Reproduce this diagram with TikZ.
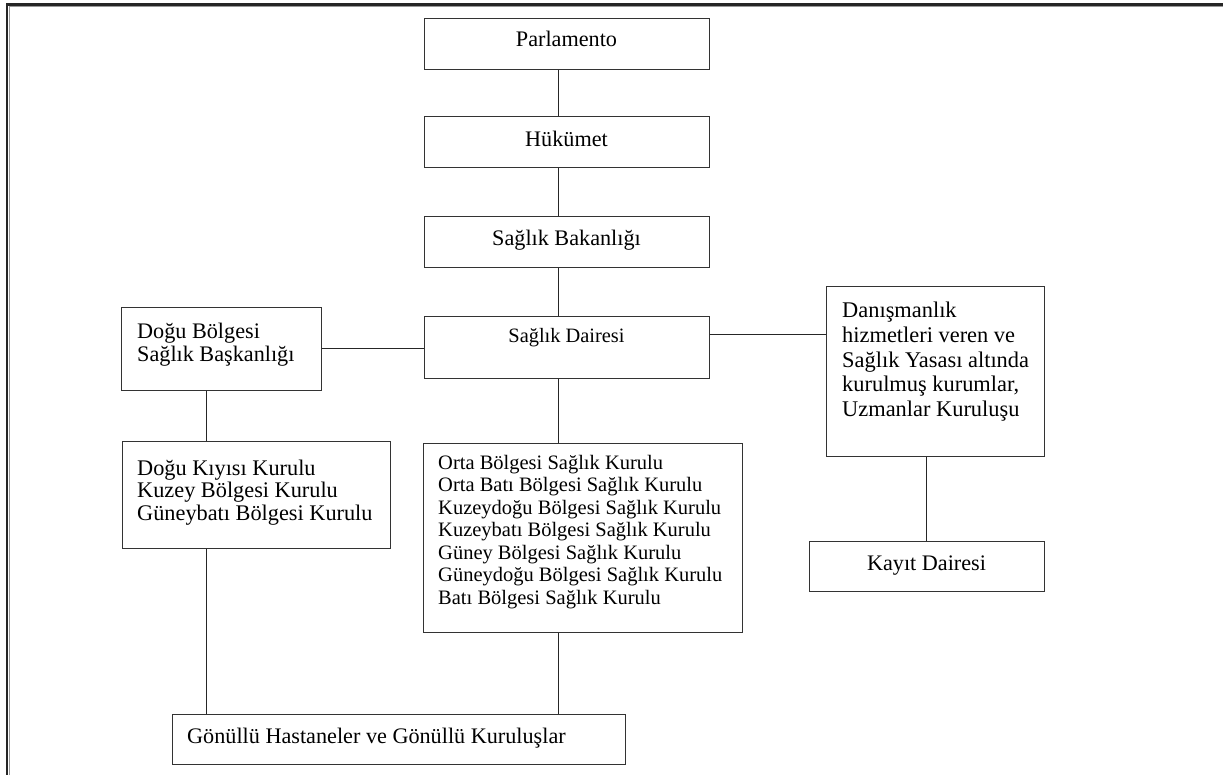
\documentclass[tikz,border=0pt]{standalone}
\usepackage{fontspec}
\setmainfont{Liberation Serif}
\begin{document}
\begin{tikzpicture}[x=1pt,y=-1pt,
  box/.style={draw=black!80, line width=1pt, inner sep=0pt},
  txt/.style={inner sep=0pt, font=\fontsize{22.2}{22.5}\selectfont},
  txts/.style={inner sep=0pt, font=\fontsize{20.4}{22.5}\selectfont},
  link/.style={draw=black!85, line width=1pt}]
\useasboundingbox (0,0) rectangle (1223,775);
\fill[white] (0,0) rectangle (1223,775);
% outer frame
\draw[line width=2.2pt, black!85] (7,775) -- (7,4.5) -- (1223,4.5);
\draw[line width=0.8pt, black!40] (9,775) -- (9,6.5) -- (1223,6.5);
% boxes
\node[box, minimum width=285, minimum height=51] (parl) at (566.5,44.5) {};
\node[box, minimum width=285, minimum height=51] (huk) at (566.5,142.5) {};
\node[box, minimum width=285, minimum height=51] (bak) at (566.5,242.5) {};
\node[box, minimum width=285, minimum height=61] (dai) at (566.5,347.5) {};
\node[box, minimum width=200, minimum height=82] (dogu) at (221,349) {};
\node[box, minimum width=268, minimum height=107] (kiyi) at (256,494.5) {};
\node[box, minimum width=319, minimum height=189] (orta) at (582.5,537.5) {};
\node[box, minimum width=218, minimum height=169] (dan) at (935,371.5) {};
\node[box, minimum width=235, minimum height=50] (kay) at (926.5,566) {};
\node[box, minimum width=453, minimum height=50] (gon) at (398.5,739) {};
% texts
\node[txt, anchor=base] (parlT) at (566.5,47) {Parlamento};
\node[txt, anchor=base] (hukT) at (566.5,147) {Hükümet};
\node[txt, anchor=base] (bakT) at (566.5,246) {Sağlık Bakanlığı};
\node[txts, anchor=base] (daiT) at (566.5,343) {Sağlık Dairesi};
\node[txt, anchor=base] (kayT) at (926.5,570) {Kayıt Dairesi};
\node[txt, anchor=base west] (gonT) at (187,743) {Gönüllü Hastaneler ve Gönüllü Kuruluşlar};
\node[inner sep=0pt, anchor=base west] (doguT) at (137,338) {\parbox[t]{180pt}{\fontsize{22.2}{23.3}\selectfont Doğu Bölgesi\\Sağlık Başkanlığı}};
\node[inner sep=0pt, anchor=base west] (kiyiT) at (137,475) {\parbox[t]{250pt}{\fontsize{22.3}{22.5}\selectfont Doğu Kıyısı Kurulu\\Kuzey Bölgesi Kurulu\\Güneybatı Bölgesi Kurulu}};
\node[inner sep=0pt, anchor=base west] (ortaT) at (438,469) {\parbox[t]{300pt}{\fontsize{20.5}{22.5}\selectfont Orta Bölgesi Sağlık Kurulu\\Orta Batı Bölgesi Sağlık Kurulu\\Kuzeydoğu Bölgesi Sağlık Kurulu\\Kuzeybatı Bölgesi Sağlık Kurulu\\Güney Bölgesi Sağlık Kurulu\\Güneydoğu Bölgesi Sağlık Kurulu\\Batı Bölgesi Sağlık Kurulu}};
\node[inner sep=0pt, anchor=base west] (danT) at (842,318) {\parbox[t]{200pt}{\fontsize{22.4}{24.6}\selectfont Danışmanlık\\hizmetleri veren ve\\Sağlık Yasası altında\\kurulmuş kurumlar,\\Uzmanlar Kuruluşu}};
% connector guides
\coordinate (spine) at (558,0);
\coordinate (leftx) at (206,0);
\coordinate (righty) at (0,335);
\coordinate (kayx) at (926,0);
% connectors
\draw[link] (parl.south -| spine) -- (huk.north -| spine);
\draw[link] (huk.south -| spine) -- (bak.north -| spine);
\draw[link] (bak.south -| spine) -- (dai.north -| spine);
\draw[link] (dai.south -| spine) -- (orta.north -| spine);
\draw[link] (orta.south -| spine) -- (gon.north -| spine);
\draw[link] (dogu.east) -- (dogu.east -| dai.west);
\draw[link] (dai.east |- righty) -- (dan.west |- righty);
\draw[link] (dogu.south -| leftx) -- (kiyi.north -| leftx);
\draw[link] (kiyi.south -| leftx) -- (gon.north -| leftx);
\draw[link] (dan.south -| kayx) -- (kay.north -| kayx);
\end{tikzpicture}
\end{document}
